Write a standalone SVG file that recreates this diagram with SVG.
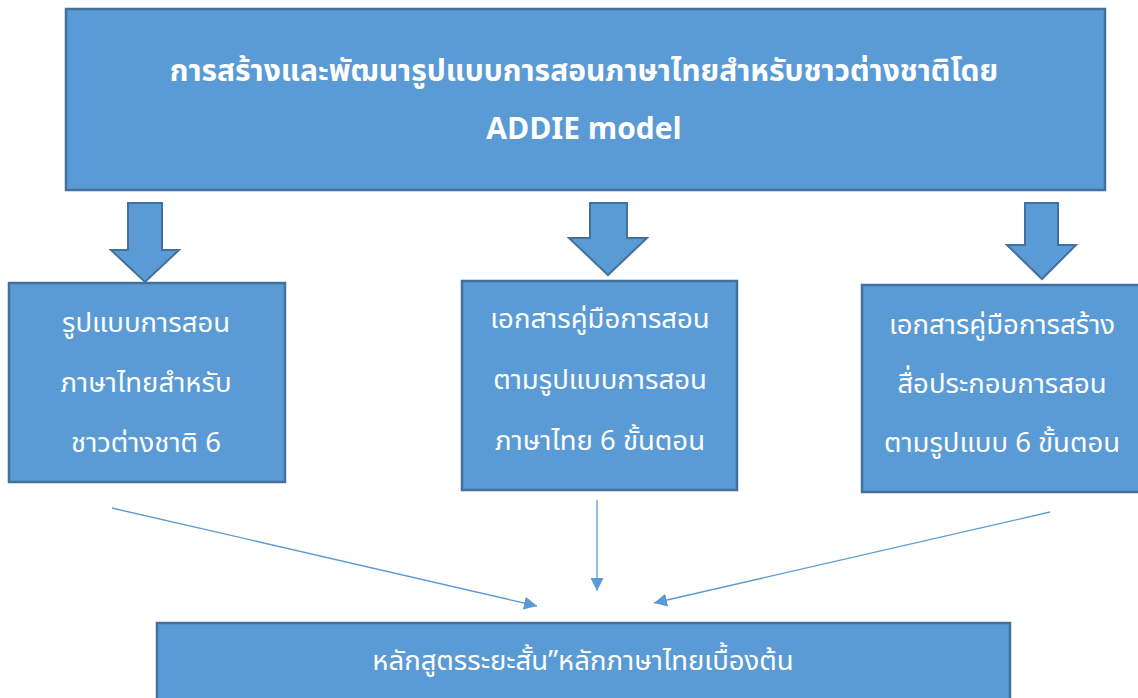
<svg xmlns="http://www.w3.org/2000/svg" width="1138" height="698" viewBox="0 0 1138 698">
<style>
.box{fill:#5B9BD5;stroke:#41719C;stroke-width:2.5}
.big{fill:#5B9BD5;stroke:#41719C;stroke-width:2}
.t{fill:#ffffff;font-family:"Noto Sans Thai","Noto Sans","DejaVu Sans",sans-serif;font-size:27.5px;text-anchor:middle}
.title{font-weight:bold;font-size:30px}
.con{stroke:#5B9BD5;stroke-width:1.3;fill:none}
</style>
<defs>
<marker id="ah" viewBox="0 0 10 10" refX="10" refY="5" markerWidth="13" markerHeight="13" markerUnits="userSpaceOnUse" orient="auto">
<path d="M0,0 L10,5 L0,10 z" fill="#5B9BD5"/>
</marker>
</defs>
<rect width="1138" height="698" fill="#ffffff"/>
<g id="title">
<rect class="box" x="66" y="9" width="1039" height="181"/>
<text class="t title" x="584" y="81">การสร้างและพัฒนารูปแบบการสอนภาษาไทยสำหรับชาวต่างชาติโดย</text>
<text class="t title" x="584" y="139">ADDIE model</text>
</g>
<g id="arrow1"><path class="big" d="M128,203 H162 V250 H179 L145,282 L111,250 H128 Z"/></g>
<g id="arrow2"><path class="big" d="M590,203 H627 V238 H647 L608,275 L569,238 H590 Z"/></g>
<g id="arrow3"><path class="big" d="M1025,203 H1058 V245 H1076 L1042,279 L1007,245 H1025 Z"/></g>
<g id="node1">
<rect class="box" x="9" y="283" width="276" height="199"/>
<text class="t" x="146" y="332">รูปแบบการสอน</text>
<text class="t" x="146" y="392">ภาษาไทยสำหรับ</text>
<text class="t" x="146" y="452">ชาวต่างชาติ 6</text>
</g>
<g id="node2">
<rect class="box" x="462" y="281" width="275" height="209"/>
<text class="t" x="600" y="328">เอกสารคู่มือการสอน</text>
<text class="t" x="600" y="389">ตามรูปแบบการสอน</text>
<text class="t" x="600" y="450">ภาษาไทย 6 ขั้นตอน</text>
</g>
<g id="node3">
<rect class="box" x="862" y="285" width="280" height="207"/>
<text class="t" x="1002" y="334">เอกสารคู่มือการสร้าง</text>
<text class="t" x="1002" y="393">สื่อประกอบการสอน</text>
<text class="t" x="1002" y="452">ตามรูปแบบ 6 ขั้นตอน</text>
</g>
<g id="node4">
<rect class="box" x="157" y="623" width="853" height="80"/>
<text class="t" x="583" y="670">หลักสูตรระยะสั้น”หลักภาษาไทยเบื้องต้น</text>
</g>
<g id="connectors">
<line class="con" x1="112" y1="508" x2="537" y2="606" marker-end="url(#ah)"/>
<line class="con" x1="597" y1="500" x2="597" y2="591" marker-end="url(#ah)"/>
<line class="con" x1="1050" y1="512" x2="654" y2="603" marker-end="url(#ah)"/>
</g>
</svg>
